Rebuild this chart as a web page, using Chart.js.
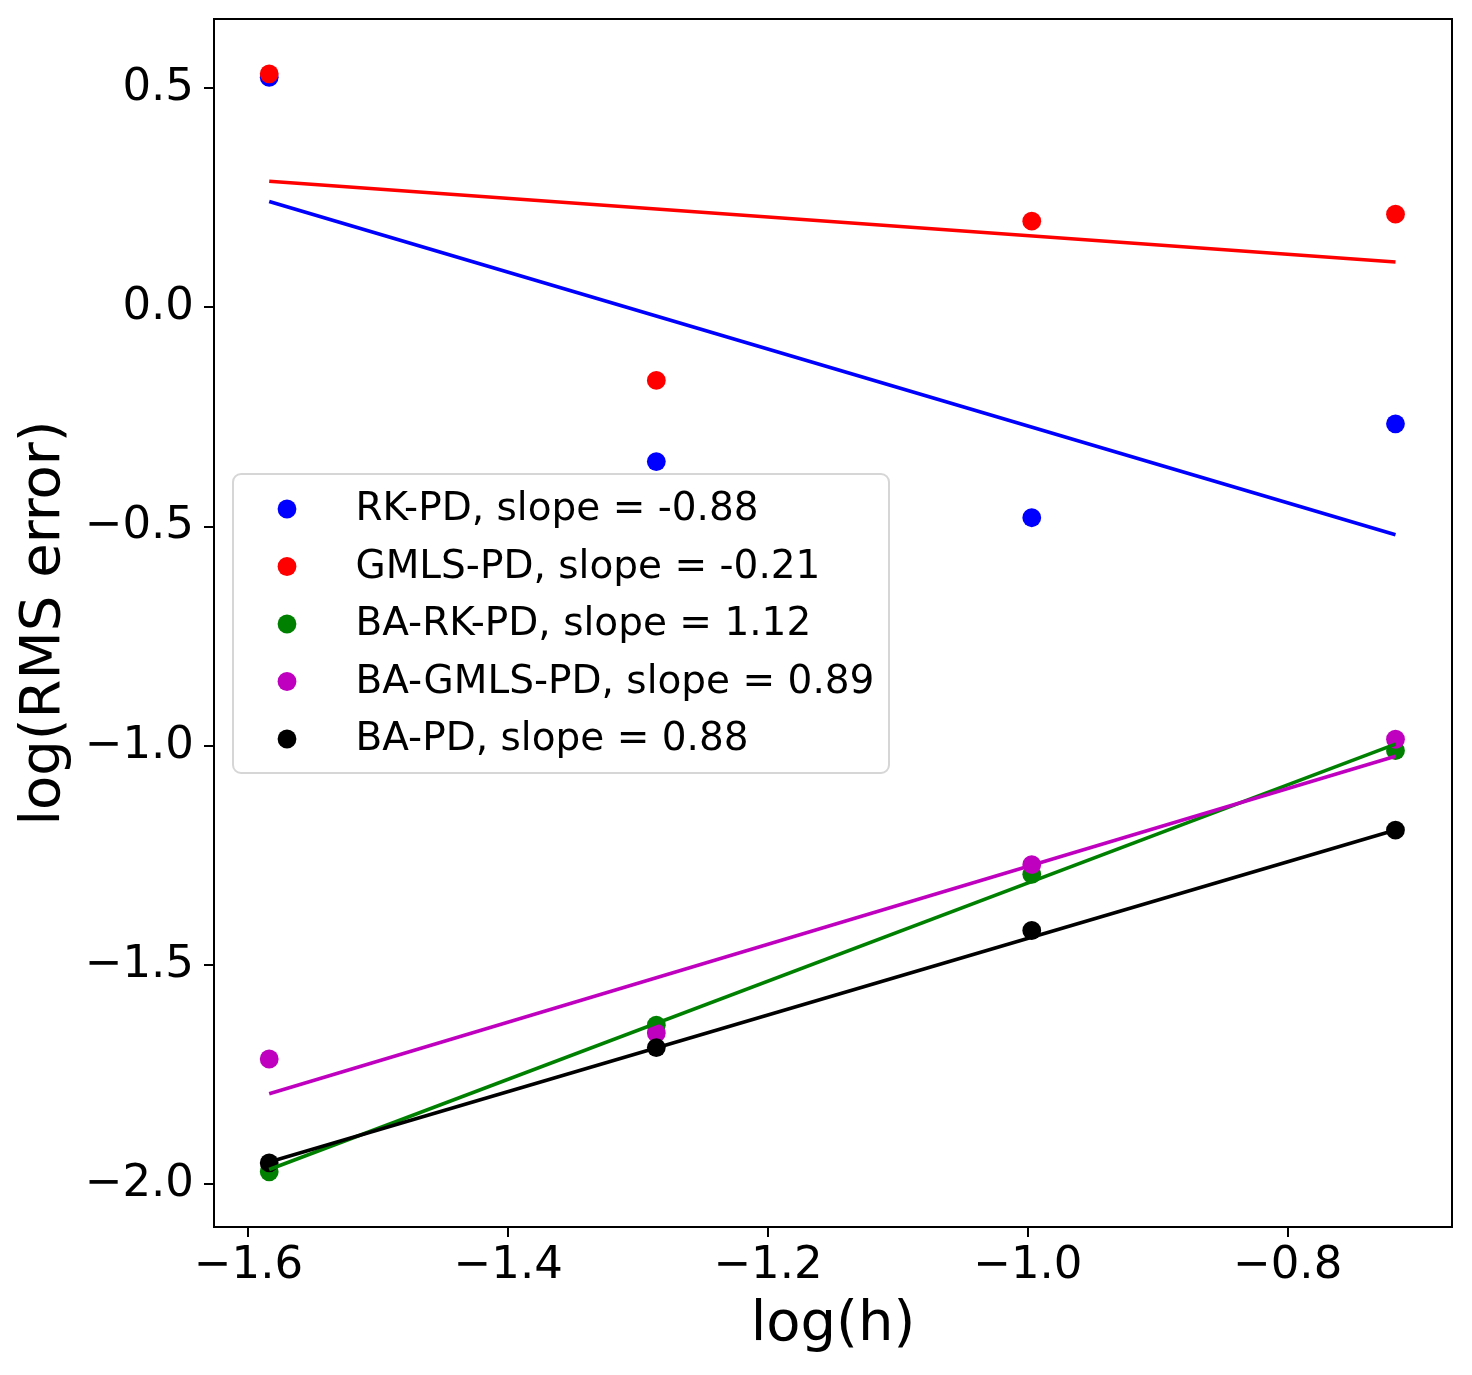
<!DOCTYPE html>
<html>
<head>
<meta charset="utf-8">
<script src="https://cdn.jsdelivr.net/npm/chart.js@4.4.1/dist/chart.umd.min.js"></script>
<style>
  html, body { margin: 0; padding: 0; background: #fff; }
  canvas { display: block; }
</style>
</head>
<body>
<canvas id="chart" width="1472" height="1375"></canvas>
<script>
// log(h) of the four resolutions, and the two ends of each fit line
const logH = [-1.584, -1.286, -0.997, -0.717];
const fitX = [-1.584, -0.717];

const methods = ['RK-PD', 'GMLS-PD', 'BA-RK-PD', 'BA-GMLS-PD', 'BA-PD'];
const slopes = ['-0.88', '-0.21', '1.12', '0.89', '0.88'];
const colors = ['#0000ff', '#ff0000', '#008000', '#bf00bf', '#000000'];

// log(RMS error) per method
const rkErr = [0.524, -0.352, -0.480, -0.266];
const gmlsErr = [0.532, -0.167, 0.196, 0.212];
const baRkErr = [-1.971, -1.637, -1.293, -1.011];
const baGmlsErr = [-1.714, -1.655, -1.271, -0.985];
const baErr = [-1.951, -1.688, -1.421, -1.192];

// fitted line values at fitX
const rkFit = [0.241, -0.519];
const gmlsFit = [0.287, 0.103];
const baRkFit = [-1.966, -0.996];
const baGmlsFit = [-1.793, -1.024];
const baFit = [-1.949, -1.192];

const xTicks = [-1.6, -1.4, -1.2, -1.0, -0.8];
const yTicks = [-2.0, -1.5, -1.0, -0.5, 0.0, 0.5];

const errs = [rkErr, gmlsErr, baRkErr, baGmlsErr, baErr];
const fits = [rkFit, gmlsFit, baRkFit, baGmlsFit, baFit];

const FONT = "'DejaVu Sans', 'Liberation Sans', sans-serif";

const fmt = v => (v < 0 ? '\u2212' : '') + Math.abs(v).toFixed(1);

// scatters first, then fit lines (later drawn on top, like matplotlib)
const datasets = [];
errs.forEach((ys, i) => {
  datasets.push({
    type: 'scatter',
    label: methods[i] + ', slope = ' + slopes[i],
    data: ys.map((y, k) => ({ x: logH[k], y })),
    backgroundColor: colors[i],
    borderWidth: 0,
    pointRadius: 9.4,
    pointHoverRadius: 9.4,
  });
});
fits.forEach((ys, i) => {
  datasets.push({
    type: 'line',
    label: '',
    data: ys.map((y, k) => ({ x: fitX[k], y })),
    borderColor: colors[i],
    borderWidth: 3.6,
    pointRadius: 0,
    fill: false,
    tension: 0,
  });
});
datasets.forEach((d, k) => { d.order = datasets.length - k; });

const framePlugin = {
  id: 'frame',
  afterDatasetsDraw(chart) {
    const { ctx, chartArea: a } = chart;
    ctx.save();
    ctx.strokeStyle = '#000';
    ctx.lineWidth = 2;
    ctx.strokeRect(a.left, a.top, a.right - a.left, a.bottom - a.top);
    ctx.restore();
  },
};

const legendPlugin = {
  id: 'boxLegend',
  afterDraw(chart) {
    const ctx = chart.ctx;
    const box = { x: 233, y: 474, w: 656, h: 299, r: 8 };
    const items = chart.data.datasets.filter(d => d.type === 'scatter');
    ctx.save();
    ctx.beginPath();
    ctx.roundRect(box.x, box.y, box.w, box.h, box.r);
    ctx.fillStyle = 'rgba(255,255,255,0.8)';
    ctx.fill();
    ctx.strokeStyle = 'rgba(204,204,204,0.8)';
    ctx.lineWidth = 2;
    ctx.stroke();

    ctx.font = '39px ' + FONT;
    ctx.textBaseline = 'alphabetic';
    ctx.textAlign = 'left';
    items.forEach((d, i) => {
      const cy = 509 + i * 57.5;
      ctx.beginPath();
      ctx.arc(287, cy, 9.4, 0, Math.PI * 2);
      ctx.fillStyle = d.backgroundColor;
      ctx.fill();
      ctx.fillStyle = '#000';
      ctx.fillText(d.label, 355.5, cy + 11);
    });
    ctx.restore();
  },
};

new Chart(document.getElementById('chart'), {
  data: { datasets },
  options: {
    responsive: false,
    animation: false,
    layout: { padding: { top: 19, right: 20, left: 0, bottom: 0 } },
    scales: {
      x: {
        type: 'linear',
        min: -1.6265,
        max: -0.6735,
        afterBuildTicks: s => { s.ticks = xTicks.map(value => ({ value })); },
        afterFit: s => { s.height = 148; s.paddingLeft = 0; s.paddingRight = 0; },
        ticks: {
          callback: v => fmt(v),
          font: { family: FONT, size: 45 },
          color: '#000',
          padding: 2,
          maxRotation: 0,
          autoSkip: false,
        },
        grid: { display: true, drawOnChartArea: false, drawTicks: true, tickLength: 10, color: '#000', lineWidth: 2 },
        border: { display: false },
        title: {
          display: true,
          text: 'log(h)',
          font: { family: FONT, size: 56 },
          color: '#000',
          padding: { top: 0, bottom: 16 },
        },
      },
      y: {
        type: 'linear',
        min: -2.097,
        max: 0.657,
        afterBuildTicks: s => { s.ticks = yTicks.map(value => ({ value })); },
        afterFit: s => { s.width = 214; s.paddingTop = 0; s.paddingBottom = 0; },
        ticks: {
          callback: v => fmt(v),
          font: { family: FONT, size: 45 },
          color: '#000',
          padding: 10,
          autoSkip: false,
        },
        grid: { display: true, drawOnChartArea: false, drawTicks: true, tickLength: 10, color: '#000', lineWidth: 2 },
        border: { display: false },
        title: {
          display: true,
          text: 'log(RMS error)',
          font: { family: FONT, size: 56 },
          color: '#000',
          padding: { top: 11, bottom: 0 },
        },
      },
    },
    plugins: {
      legend: { display: false },
      tooltip: { enabled: false },
    },
  },
  plugins: [framePlugin, legendPlugin],
});
</script>
</body>
</html>
